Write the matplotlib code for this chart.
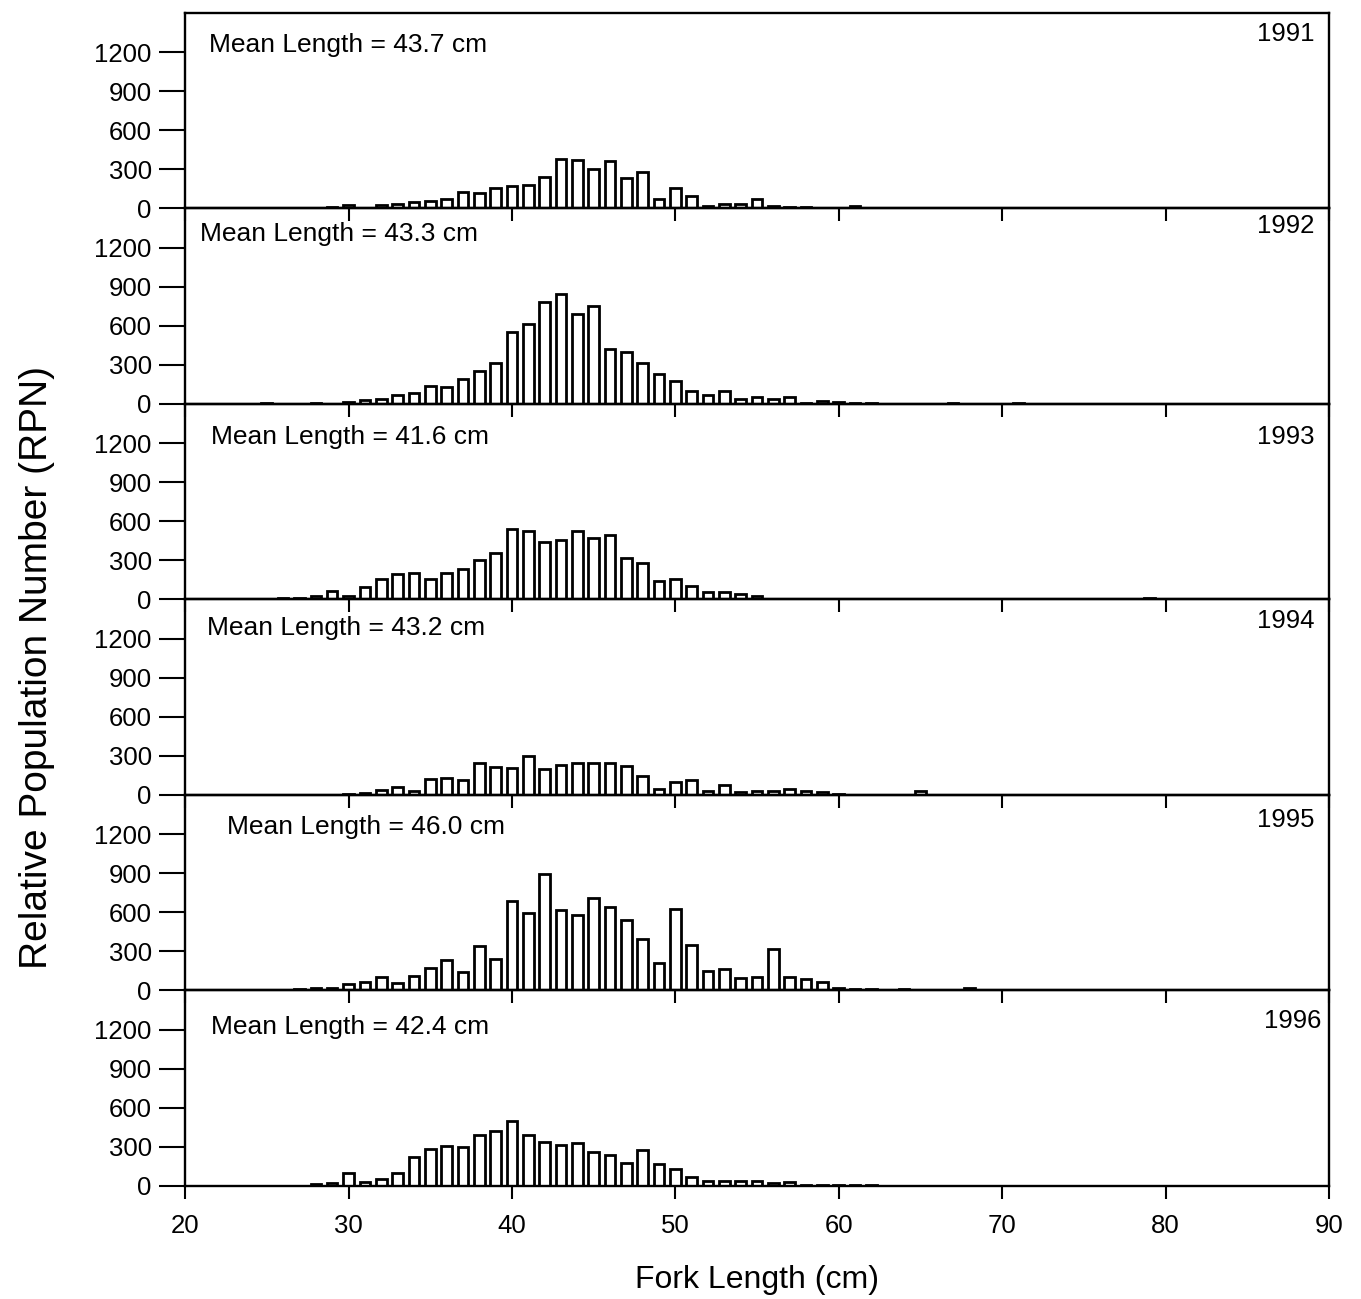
import numpy as np
import matplotlib
matplotlib.use("Agg")
import matplotlib.pyplot as plt

plt.rcParams["font.family"] = ["Liberation Sans", "DejaVu Sans"]

# relative population number by fork length (cm), one survey year per panel
years = ["1991", "1992", "1993", "1994", "1995", "1996"]
mean_lengths = [43.7, 43.3, 41.6, 43.2, 46.0, 42.4]

len_1991 = list(range(29, 62))
rpn_1991 = [8, 26, 0, 29, 31, 49, 60, 70, 127, 120, 159, 169, 179, 242, 382,
            372, 304, 364, 231, 281, 75, 161, 96, 18, 35, 38, 75, 18, 10, 8,
            5, 5, 20]

len_1992 = [25] + list(range(28, 63)) + [67, 71]
rpn_1992 = [5, 10, 0, 15, 27, 35, 69, 85, 141, 128, 192, 254, 315, 555, 611,
            782, 846, 692, 753, 419, 400, 318, 232, 174, 99, 67, 99, 35, 51,
            35, 56, 10, 20, 15, 10, 5, 10, 10]

len_1993 = list(range(26, 56)) + [79]
rpn_1993 = [10, 8, 23, 65, 29, 96, 159, 192, 200, 156, 200, 237, 304, 354,
            543, 525, 439, 455, 525, 468, 491, 315, 278, 143, 161, 104, 55,
            55, 44, 25, 10]

len_1994 = list(range(30, 61)) + [65]
rpn_1994 = [5, 13, 42, 61, 27, 119, 133, 114, 246, 217, 207, 300, 199, 233,
            245, 248, 245, 225, 143, 45, 98, 114, 34, 74, 20, 32, 32, 45, 29,
            20, 5, 30]

len_1995 = list(range(27, 63)) + [64, 68]
rpn_1995 = [12, 18, 20, 52, 66, 102, 60, 113, 170, 233, 141, 341, 238, 684,
            595, 891, 616, 579, 710, 639, 537, 398, 212, 629, 351, 149, 162,
            92, 105, 322, 100, 89, 63, 20, 8, 8, 10, 20]

len_1996 = list(range(28, 63))
rpn_1996 = [18, 21, 103, 29, 55, 100, 224, 287, 308, 297, 389, 423, 500, 389,
            334, 318, 331, 260, 239, 176, 276, 171, 132, 66, 42, 42, 42, 42,
            20, 29, 5, 5, 5, 10, 10]

lengths = [len_1991, len_1992, len_1993, len_1994, len_1995, len_1996]
rpns = [rpn_1991, rpn_1992, rpn_1993, rpn_1994, rpn_1995, rpn_1996]

# label placement inside each panel (axes fraction)
mean_pos = [(0.021, 0.835), (0.013, 0.87), (0.023, 0.83), (0.019, 0.855),
            (0.037, 0.835), (0.023, 0.815)]
year_pos = [(0.987, 0.895), (0.987, 0.91), (0.987, 0.83), (0.987, 0.89),
            (0.987, 0.87), (0.993, 0.845)]

fig, axes = plt.subplots(6, 1, sharex=True, figsize=(13.61, 12.99), dpi=100,
                         gridspec_kw={"hspace": 0})
fig.subplots_adjust(left=0.136, right=0.9765, top=0.99, bottom=0.087)

for i, ax in enumerate(axes):
    ax.patch.set_visible(False)
    ax.bar(lengths[i], rpns[i], width=0.65, color="white", edgecolor="black",
           linewidth=2.0, zorder=2)
    ax.set_xlim(20, 90)
    ax.set_ylim(0, 1500)
    ax.set_yticks([0, 300, 600, 900, 1200])
    ax.set_xticks(range(20, 91, 10))
    ax.tick_params(axis="y", direction="out", length=19, width=1.5,
                   labelsize=18.5, pad=5)
    ax.tick_params(axis="x", direction="out", length=9, width=1.5,
                   labelsize=18.5, pad=11)
    for sp in ax.spines.values():
        sp.set_linewidth(1.7)
    ax.text(mean_pos[i][0], mean_pos[i][1],
            f"Mean Length = {mean_lengths[i]:.1f} cm",
            transform=ax.transAxes, fontsize=19, ha="left", va="center")
    ax.text(year_pos[i][0], year_pos[i][1], years[i], transform=ax.transAxes,
            fontsize=18.5, ha="right", va="center")

fig.text(0.027, 0.486, "Relative Population Number (RPN)", rotation=90,
         fontsize=28, ha="center", va="center")
fig.text(0.556, 0.0146, "Fork Length (cm)", fontsize=23, ha="center",
         va="center")

fig.savefig("out.png", dpi=100)
